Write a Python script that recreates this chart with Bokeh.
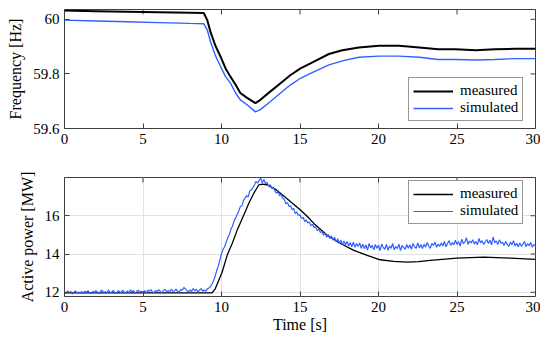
import math
from bokeh.plotting import figure
from bokeh.layouts import column
from bokeh.models import Range1d, Legend, LegendItem, FixedTicker
from bokeh.embed import file_html
from bokeh.resources import INLINE

# ---------------- data ----------------
time_ticks = [0, 5, 10, 15, 20, 25, 30]
freq_ticks = [59.6, 59.8, 60.0]
freq_tick_labels = ["59.6", "59.8", "60"]
power_ticks = [12, 14, 16]
power_tick_labels = ["12", "14", "16"]

t_freq = [0, 2, 4, 6, 8, 8.87, 9.1, 9.3, 9.6, 9.94, 10.26, 10.57, 10.9, 11.2,
          11.63, 12.16, 12.48, 13.12, 13.76, 14.4, 15.03, 15.67, 16.84, 17.69,
          18.75, 20.03, 21.3, 22.6, 23.8, 24.9, 26.2, 27.4, 28.7, 30]
freq_measured = [60.032, 60.030, 60.028, 60.026, 60.024, 60.023, 59.996, 59.954,
                 59.905, 59.863, 59.82, 59.79, 59.76, 59.73, 59.712, 59.693,
                 59.705, 59.736, 59.766, 59.796, 59.82, 59.839, 59.873, 59.887,
                 59.897, 59.903, 59.903, 59.897, 59.89, 59.89, 59.887, 59.89,
                 59.892, 59.892]
freq_simulated = [59.997, 59.994, 59.991, 59.988, 59.985, 59.984, 59.96, 59.918,
                  59.869, 59.827, 59.79, 59.766, 59.73, 59.705, 59.687, 59.661,
                  59.669, 59.699, 59.73, 59.76, 59.784, 59.802, 59.833, 59.848,
                  59.861, 59.865, 59.865, 59.861, 59.853, 59.853, 59.851, 59.853,
                  59.856, 59.856]

t_power_measured = [0, 9.4, 9.6, 10.04, 10.36, 10.68, 11.0, 11.42, 11.74, 12.06,
                    12.38, 12.59, 12.9, 13.5, 14.14, 15.03, 15.52, 15.88, 16.73,
                    17.58, 18.43, 19.28, 20.1, 20.97, 21.8, 22.55, 23.3, 25.0,
                    26.7, 28.4, 30]
power_measured = [11.97, 11.97, 12.18, 13.05, 13.93, 14.55, 15.25, 16.04, 16.65,
                  17.18, 17.62, 17.65, 17.62, 17.35, 16.92, 16.3, 15.92, 15.6,
                  14.98, 14.55, 14.19, 13.93, 13.7, 13.62, 13.58, 13.6, 13.67,
                  13.79, 13.84, 13.79, 13.72]

power_sample_step = 0.1  # s
power_simulated = [
    12.03, 11.94, 12.08, 11.98, 12.05, 11.91, 12.01, 12.07, 11.96, 12.02,
    11.95, 12.04, 11.92, 12.06, 12.00, 12.09, 11.97, 11.93, 12.05, 11.99,
    12.08, 12.00, 11.92, 12.06, 12.10, 11.97, 12.05, 11.96, 12.12, 11.99,
    12.01, 12.10, 11.99, 11.94, 12.08, 12.05, 11.97, 12.11, 12.02, 11.96,
    12.07, 11.98, 12.12, 12.02, 12.09, 11.95, 12.05, 12.11, 12.00, 12.06,
    12.00, 12.09, 11.97, 12.11, 12.05, 12.14, 12.02, 11.98, 12.10, 12.04,
    12.13, 12.05, 11.97, 12.11, 12.15, 12.02, 12.10, 12.01, 12.17, 12.04,
    12.07, 12.16, 12.05, 12.00, 12.14, 12.11, 12.25, 12.19, 12.08, 12.02,
    12.13, 12.04, 12.20, 12.08, 12.15, 12.01, 12.11, 12.19, 12.06, 12.12,
    12.06, 12.18, 12.22, 12.30, 12.45, 12.62, 12.85, 13.15, 13.38, 13.70,
    14.02, 14.25, 14.38, 14.62, 14.85, 15.02, 15.30, 15.45, 15.72, 15.88,
    16.08, 16.25, 16.48, 16.52, 16.80, 16.92, 17.05, 16.98, 17.30, 17.35,
    17.48, 17.62, 17.80, 17.70, 17.85, 17.98, 17.72, 17.90, 17.68, 17.75,
    17.55, 17.62, 17.42, 17.50, 17.30, 17.18, 17.25, 17.05, 17.12, 16.92,
    16.85, 16.62, 16.70, 16.48, 16.52, 16.32, 16.38, 16.12, 16.20, 16.02,
    16.05, 15.85, 15.92, 15.70, 15.78, 15.62, 15.68, 15.48, 15.55, 15.38,
    15.42, 15.22, 15.30, 15.12, 15.20, 14.98, 15.10, 14.88, 15.02, 14.80,
    14.95, 14.72, 14.88, 14.62, 14.80, 14.55, 14.72, 14.50, 14.68, 14.48,
    14.66, 14.42, 14.60, 14.38, 14.62, 14.35, 14.55, 14.40, 14.58, 14.30,
    14.52, 14.28, 14.48, 14.20, 14.55, 14.32, 14.45, 14.22, 14.50, 14.30,
    14.46, 14.18, 14.52, 14.35, 14.25, 14.50, 14.20, 14.42, 14.30, 14.55,
    14.22, 14.40, 14.28, 14.52, 14.18, 14.45, 14.35, 14.24, 14.50, 14.30,
    14.48, 14.25, 14.55, 14.38, 14.30, 14.58, 14.32, 14.50, 14.28, 14.52,
    14.36, 14.60, 14.42, 14.30, 14.56, 14.45, 14.62, 14.35, 14.52, 14.40,
    14.58, 14.42, 14.66, 14.38, 14.55, 14.70, 14.45, 14.60, 14.48, 14.72,
    14.50, 14.65, 14.42, 14.78, 14.55, 14.62, 14.85, 14.50, 14.68, 14.58,
    14.75, 14.52, 14.66, 14.48, 14.82, 14.58, 14.70, 14.50, 14.64, 14.76,
    14.55, 14.72, 14.48, 14.88, 14.60, 14.68, 14.50, 14.74, 14.56, 14.62,
    14.45, 14.66, 14.50, 14.40, 14.62, 14.48, 14.70, 14.42, 14.56, 14.38,
    14.58, 14.40, 14.52, 14.66, 14.38, 14.55, 14.44, 14.60, 14.35, 14.50,
    14.45,
]
t_power_simulated = [i * power_sample_step for i in range(len(power_simulated))]

# ---------------- style ----------------
FONT = "Liberation Serif"
FS = "15px"
FS_LABEL = "16px"
BLUE = "#3060ff"
FRAME = "#404040"
X0, X1 = 0, 30


def style_axis(ax, ticks, labels):
    ax.ticker = FixedTicker(ticks=ticks)
    ax.axis_line_color = None
    ax.major_tick_in = 5
    ax.major_tick_out = 0
    ax.major_tick_line_color = FRAME
    ax.minor_tick_line_color = None
    ax.major_label_text_font = FONT
    ax.major_label_text_font_size = FS
    ax.major_label_text_color = "black"
    ax.major_label_standoff = 5
    ax.major_label_overrides = dict(zip(ticks, labels))
    ax.axis_label_text_font = FONT
    ax.axis_label_text_font_size = FS_LABEL
    ax.axis_label_text_font_style = "normal"
    ax.axis_label_text_color = "black"


def make_fig(y0, y1, yticks, ylabels, ylabel, xlabel, grid, mb_top, mb_bottom):
    p = figure(output_backend="svg", toolbar_location=None,
               frame_width=471, frame_height=119,
               x_range=Range1d(X0, X1), y_range=Range1d(y0, y1),
               min_border_left=64, min_border_right=5,
               min_border_top=mb_top, min_border_bottom=mb_bottom)
    p.outline_line_color = FRAME
    p.outline_line_width = 1
    p.background_fill_color = "white"
    p.border_fill_color = "white"
    style_axis(p.xaxis[0], time_ticks, [str(t) for t in time_ticks])
    style_axis(p.yaxis[0], yticks, ylabels)
    if xlabel:
        p.xaxis[0].axis_label = xlabel
    p.yaxis[0].axis_label = ylabel
    p.yaxis[0].axis_label_standoff = 6
    p.xaxis[0].axis_label_standoff = 1
    # mirrored inward ticks on the top and right edges of the frame
    p.ray(x=time_ticks, y=[y1] * len(time_ticks), length=5, length_units="screen",
          angle=-math.pi / 2, line_color=FRAME, line_width=1)
    p.ray(x=[X1] * len(yticks), y=yticks, length=5, length_units="screen",
          angle=math.pi, line_color=FRAME, line_width=1)
    if grid:
        p.xgrid.ticker = FixedTicker(ticks=time_ticks)
        p.ygrid.ticker = FixedTicker(ticks=yticks)
        p.grid.grid_line_color = "#e2e2e2"
        p.grid.grid_line_width = 1
    else:
        p.grid.grid_line_color = None
    return p


def add_legend(p, items, loc):
    leg = Legend(items=items, location=loc, margin=0,
                 padding=4, spacing=0, glyph_width=40, glyph_height=16,
                 label_height=16, label_standoff=7,
                 label_text_font=FONT, label_text_font_size=FS,
                 label_text_color="black",
                 border_line_color="#303030", border_line_width=1,
                 background_fill_color="white", background_fill_alpha=1)
    p.add_layout(leg, "center")


# ---- top: frequency ----
p1 = make_fig(59.6, 60.036, freq_ticks, freq_tick_labels, "Frequency [Hz]", None,
              False, 9, 30)
r1 = p1.line(t_freq, freq_measured, line_color="black", line_width=2)
r2 = p1.line(t_freq, freq_simulated, line_color=BLUE, line_width=1.4)
add_legend(p1, [LegendItem(label="measured", renderers=[r1]),
                LegendItem(label="simulated", renderers=[r2])], (344, 7))

# ---- bottom: active power ----
p2 = make_fig(11.78, 18.0, power_ticks, power_tick_labels, "Active power [MW]",
              "Time [s]", True, 19, 38)
r3 = p2.line(t_power_measured, power_measured, line_color="black", line_width=1.3)
r4 = p2.line(t_power_simulated, power_simulated, line_color=BLUE, line_width=1.2)
add_legend(p2, [LegendItem(label="measured", renderers=[r3]),
                LegendItem(label="simulated", renderers=[r4])], (344, 72))

layout = column(p1, p2, spacing=0)
open("out.html", "w").write(file_html(layout, INLINE))
